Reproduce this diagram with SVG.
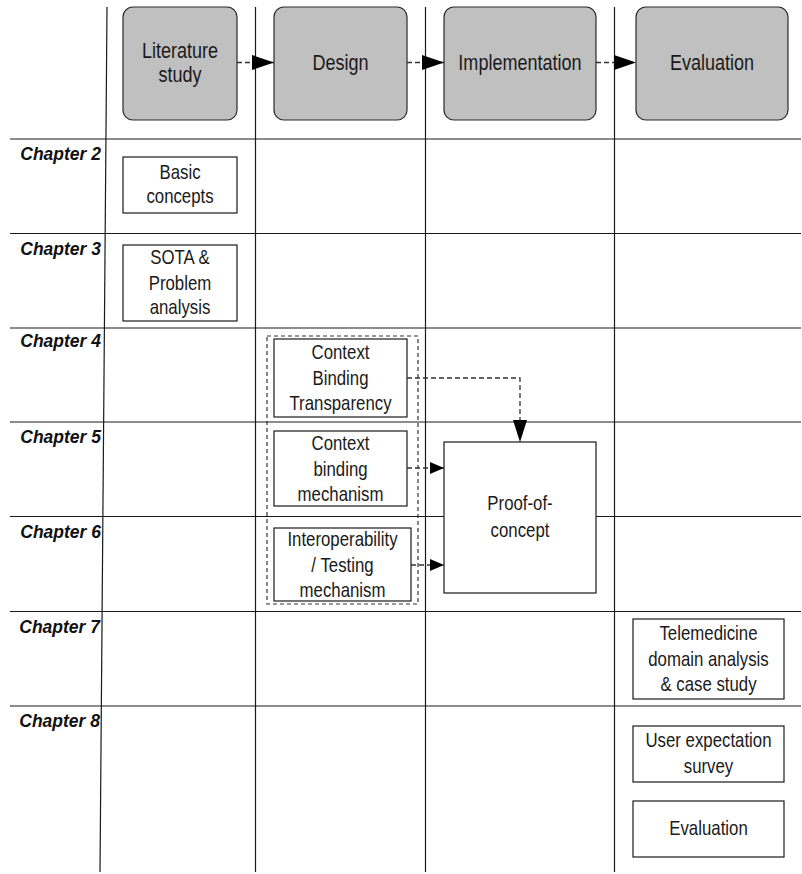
<svg xmlns="http://www.w3.org/2000/svg" width="802" height="874" viewBox="0 0 802 874">
<defs>
<style>
.grid{stroke:#1a1a1a;stroke-width:1.2;fill:none}
.hdr{fill:#c0c0c0;stroke:#2a2a2a;stroke-width:1.2}
.box{fill:#fff;stroke:#1a1a1a;stroke-width:1.2}
.t{font-family:"Liberation Sans",Arial,sans-serif;fill:#1a1a1a;text-anchor:middle}
.th{font-size:22px}
.tb{font-size:20.5px}
.ch{font-family:"Liberation Sans",Arial,sans-serif;font-size:17.5px;font-weight:bold;font-style:italic;fill:#111;text-anchor:end}
.dash{stroke:#333;stroke-width:1.3;stroke-dasharray:5 3;fill:none}
</style>
<marker id="big" markerUnits="userSpaceOnUse" markerWidth="22" markerHeight="15" refX="22" refY="7.5" orient="auto"><path d="M0,0 L22,7.5 L0,15 z" fill="#000"/></marker>
<marker id="down" markerUnits="userSpaceOnUse" markerWidth="22" markerHeight="14" refX="22" refY="7" orient="auto"><path d="M0,0 L22,7 L0,14 z" fill="#000"/></marker>
<marker id="small" markerUnits="userSpaceOnUse" markerWidth="14" markerHeight="12" refX="14" refY="6" orient="auto"><path d="M0,0 L14,6 L0,12 z" fill="#000"/></marker>
</defs>
<rect width="802" height="874" fill="#fff"/>
<g id="grid">
<line class="grid" x1="107" y1="7" x2="100" y2="872"/>
<line class="grid" x1="255.5" y1="7" x2="255.5" y2="872"/>
<line class="grid" x1="425.5" y1="7" x2="425.5" y2="872"/>
<line class="grid" x1="614.5" y1="7" x2="614.5" y2="872"/>
<line class="grid" x1="10" y1="139" x2="801" y2="139"/>
<line class="grid" x1="10" y1="233.5" x2="801" y2="233.5"/>
<line class="grid" x1="10" y1="328" x2="801" y2="328"/>
<line class="grid" x1="10" y1="422" x2="801" y2="422"/>
<line class="grid" x1="10" y1="516.5" x2="801" y2="516.5"/>
<line class="grid" x1="10" y1="611.5" x2="801" y2="611.5"/>
<line class="grid" x1="10" y1="706" x2="801" y2="706"/>
</g>
<g id="chapters">
<text class="ch" x="101" y="160">Chapter 2</text>
<text class="ch" x="101" y="254.5">Chapter 3</text>
<text class="ch" x="101" y="347">Chapter 4</text>
<text class="ch" x="101" y="443">Chapter 5</text>
<text class="ch" x="101" y="537.5">Chapter 6</text>
<text class="ch" x="100" y="632.5">Chapter 7</text>
<text class="ch" x="100" y="727">Chapter 8</text>
</g>
<g id="literature-study">
<rect class="hdr" x="123" y="7" width="114" height="113" rx="10"/>
<g transform="translate(180 0) scale(0.82 1)">
<text class="t th" x="0" y="58">Literature</text>
<text class="t th" x="0" y="82">study</text>
</g>
</g>
<g id="design">
<rect class="hdr" x="274" y="7" width="133" height="113" rx="10"/>
<g transform="translate(340.5 0) scale(0.82 1)">
<text class="t th" x="0" y="70.5">Design</text>
</g>
</g>
<g id="implementation">
<rect class="hdr" x="444" y="7" width="152" height="113" rx="10"/>
<g transform="translate(520 0) scale(0.82 1)">
<text class="t th" x="0" y="70.5">Implementation</text>
</g>
</g>
<g id="evaluation-header">
<rect class="hdr" x="636" y="7" width="152" height="113" rx="10"/>
<g transform="translate(712 0) scale(0.82 1)">
<text class="t th" x="0" y="70.5">Evaluation</text>
</g>
</g>
<g id="basic-concepts">
<rect class="box" x="123" y="157" width="114" height="56"/>
<g transform="translate(180 0) scale(0.82 1)">
<text class="t tb" x="0" y="179">Basic</text>
<text class="t tb" x="0" y="203">concepts</text>
</g>
</g>
<g id="sota">
<rect class="box" x="123" y="245" width="114" height="76"/>
<g transform="translate(180 0) scale(0.82 1)">
<text class="t tb" x="0" y="264">SOTA &amp;</text>
<text class="t tb" x="0" y="290">Problem</text>
<text class="t tb" x="0" y="314">analysis</text>
</g>
</g>
<g id="design-group">
<rect x="267" y="336" width="151" height="268" fill="none" stroke="#333" stroke-width="1.2" stroke-dasharray="4 3"/>
</g>
<g id="context-binding-transparency">
<rect class="box" x="274" y="339" width="133" height="78"/>
<g transform="translate(340.5 0) scale(0.82 1)">
<text class="t tb" x="0" y="359">Context</text>
<text class="t tb" x="0" y="385">Binding</text>
<text class="t tb" x="0" y="410.5">Transparency</text>
</g>
</g>
<g id="context-binding-mechanism">
<rect class="box" x="274" y="431" width="133" height="75"/>
<g transform="translate(340.5 0) scale(0.82 1)">
<text class="t tb" x="0" y="450">Context</text>
<text class="t tb" x="0" y="476">binding</text>
<text class="t tb" x="0" y="501">mechanism</text>
</g>
</g>
<g id="interoperability">
<rect class="box" x="274" y="528" width="137" height="73"/>
<g transform="translate(342.5 0) scale(0.82 1)">
<text class="t tb" x="0" y="546">Interoperability</text>
<text class="t tb" x="0" y="572">/ Testing</text>
<text class="t tb" x="0" y="597">mechanism</text>
</g>
</g>
<g id="proof-of-concept">
<rect class="box" x="444" y="442" width="152" height="151"/>
<g transform="translate(520 0) scale(0.82 1)">
<text class="t tb" x="0" y="510">Proof-of-</text>
<text class="t tb" x="0" y="537">concept</text>
</g>
</g>
<g id="telemedicine">
<rect class="box" x="633" y="619" width="151" height="80"/>
<g transform="translate(708.5 0) scale(0.82 1)">
<text class="t tb" x="0" y="640.5">Telemedicine</text>
<text class="t tb" x="0" y="666">domain analysis</text>
<text class="t tb" x="0" y="691">&amp; case study</text>
</g>
</g>
<g id="user-expectation-survey">
<rect class="box" x="633" y="726" width="151" height="56"/>
<g transform="translate(708.5 0) scale(0.82 1)">
<text class="t tb" x="0" y="747.5">User expectation</text>
<text class="t tb" x="0" y="773">survey</text>
</g>
</g>
<g id="evaluation">
<rect class="box" x="633" y="801" width="151" height="56"/>
<g transform="translate(708.5 0) scale(0.82 1)">
<text class="t tb" x="0" y="835.5">Evaluation</text>
</g>
</g>
<g id="connectors">
<line class="dash" x1="237" y1="62.5" x2="274" y2="62.5" marker-end="url(#big)"/>
<line class="dash" x1="407" y1="62.5" x2="444" y2="62.5" marker-end="url(#big)"/>
<line class="dash" x1="596" y1="62.5" x2="636" y2="62.5" marker-end="url(#big)"/>
<path class="dash" d="M407,378 H520 V442" marker-end="url(#down)"/>
<line class="dash" x1="407" y1="468" x2="444" y2="468" marker-end="url(#small)"/>
<line class="dash" x1="411" y1="565" x2="444" y2="565" marker-end="url(#small)"/>
</g>
</svg>
